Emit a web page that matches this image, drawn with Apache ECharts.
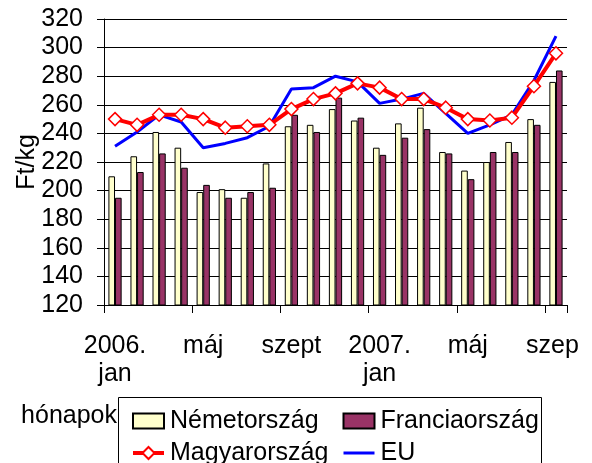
<!DOCTYPE html>
<html>
<head>
<meta charset="utf-8">
<script src="https://cdn.jsdelivr.net/npm/echarts@6/dist/echarts.min.js"></script>
<style>
  html, body { margin: 0; padding: 0; background: #fff; }
  #chart { width: 592px; height: 463px; }
</style>
</head>
<body>
<div id="chart"></div>
<script>
// hónapok, 2006. jan - 2007. szept
const months = ["2006.\njan", "febr", "márc", "ápr", "máj", "jún", "júl", "aug", "szept", "okt", "nov", "dec",
  "2007.\njan", "febr", "márc", "ápr", "máj", "jún", "júl", "aug", "szept"];

const nemetorszag = [210, 224, 241, 230, 199, 201, 195, 219, 245, 246, 257, 249,
  230, 247, 258, 227, 214, 220, 234, 250, 276];
const franciaorszag = [195, 213, 226, 216, 204, 195, 199, 202, 253, 241, 265, 251,
  225, 237, 243, 226, 208, 227, 227, 246, 284];
const magyarorszag = [250, 246, 253, 253, 250, 244, 245, 246, 257, 264, 268, 275,
  272, 264, 264, 258, 250, 249, 251, 273, 296];
const eu = [231, 241, 253, 248, 230, 233, 237, 245, 271, 272, 280, 276,
  261, 264, 268, 254, 240, 246, 253, 277, 308];

const FONT = "Liberation Sans, Arial, sans-serif";

let chart = echarts.init(document.getElementById("chart"));

const legendText = { fontSize: 25, lineHeight: 25, fontFamily: FONT, color: "#000", padding: [0, 0, 0, 1] };

chart.setOption({
  animation: false,
  textStyle: { fontFamily: FONT, color: "#000" },
  grid: { left: 104, right: 25, top: 19, bottom: 158 },
  graphic: [
    // legend frame
    {
      type: "rect",
      z: 0,
      shape: { x: 118.5, y: 397.5, width: 423, height: 80 },
      style: { fill: "#fff", stroke: "#000", lineWidth: 1 }
    },
    {
      type: "text",
      z: 1,
      style: {
        text: "hónapok",
        x: 117, y: 416,
        align: "right", verticalAlign: "middle",
        font: "25px " + FONT, fill: "#000"
      }
    },
    // the last label is cut off at the edge in the original
    {
      type: "rect",
      z: 100,
      shape: { x: 579, y: 318, width: 13, height: 40 },
      style: { fill: "#fff" }
    }
  ],
  legend: [
    {
      orient: "vertical",
      left: 126, top: 403.5, height: 100,
      itemWidth: 31, itemHeight: 15,
      itemGap: 7,
      textStyle: legendText,
      data: [
        { name: "Németország", icon: "rect" },
        { name: "Magyarország", lineStyle: { width: 4 } }
      ]
    },
    {
      orient: "vertical",
      left: 337, top: 403.5, height: 100,
      itemWidth: 31, itemHeight: 15,
      itemGap: 7,
      textStyle: legendText,
      data: [
        { name: "Franciaország", icon: "rect" },
        {
          name: "EU",
          lineStyle: { width: 3 },
          itemStyle: { color: "rgba(0,0,0,0)", borderColor: "rgba(0,0,0,0)", borderWidth: 0 }
        }
      ]
    }
  ],
  xAxis: {
    type: "category",
    data: months,
    axisLine: { lineStyle: { color: "#000", width: 1 } },
    axisTick: { show: true, length: 8, lineStyle: { color: "#000" } },
    axisLabel: {
      interval: 3,
      fontSize: 25,
      lineHeight: 28,
      margin: 27,
      color: "#000",
      fontFamily: FONT
    }
  },
  yAxis: {
    type: "value",
    min: 120,
    max: 320,
    interval: 20,
    name: "Ft/kg",
    nameLocation: "middle",
    nameRotate: 90,
    nameGap: 64,
    nameMoveOverlap: false,
    nameTextStyle: { fontSize: 25, color: "#000", fontFamily: FONT },
    axisLine: { show: true, lineStyle: { color: "#000", width: 1 } },
    axisTick: { show: true, length: 7, lineStyle: { color: "#000" } },
    axisLabel: { fontSize: 25, margin: 21, color: "#000", fontFamily: FONT },
    splitLine: { lineStyle: { color: "#000", width: 1 } }
  },
  series: [
    {
      name: "Németország",
      type: "bar",
      barGap: "0%",
      barCategoryGap: "40%",
      itemStyle: { color: "#FFFFCC", borderColor: "#000", borderWidth: 1 },
      data: nemetorszag
    },
    {
      name: "Franciaország",
      type: "bar",
      barGap: "0%",
      barCategoryGap: "40%",
      itemStyle: { color: "#993366", borderColor: "#000", borderWidth: 1 },
      data: franciaorszag
    },
    {
      name: "Magyarország",
      type: "line",
      z: 4,
      symbol: "diamond",
      symbolSize: 13,
      lineStyle: { color: "#FF0000", width: 4 },
      itemStyle: { color: "#fff", borderColor: "#FF0000", borderWidth: 1.5 },
      data: magyarorszag
    },
    {
      name: "EU",
      type: "line",
      z: 3,
      symbol: "none",
      lineStyle: { color: "#0000FF", width: 3 },
      itemStyle: { color: "#0000FF" },
      data: eu
    }
  ]
});
window.addEventListener("resize", function() {
  chart.resize();
});
</script>
</body>
</html>
